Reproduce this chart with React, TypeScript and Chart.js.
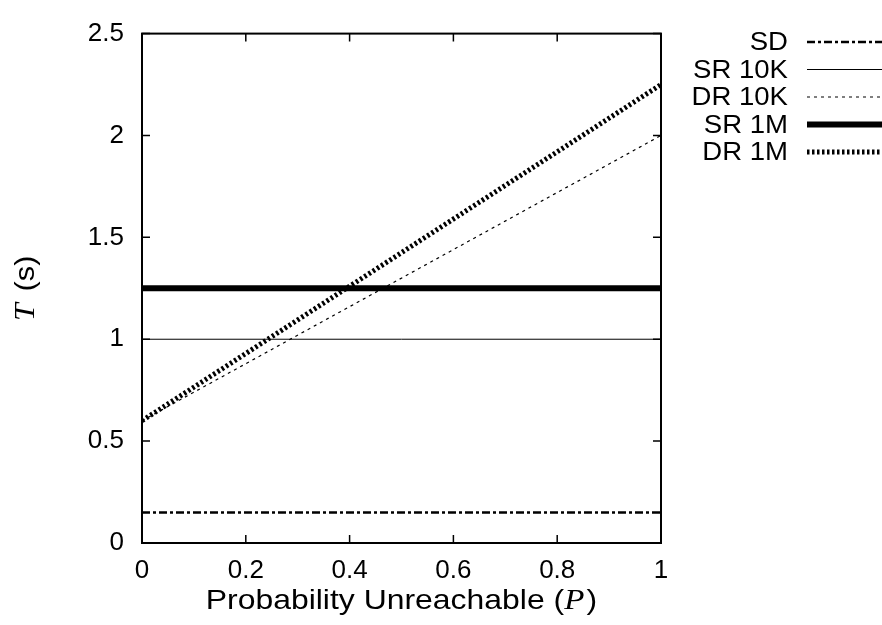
import React, { useEffect, useRef } from "react";
import { Chart, registerables } from "chart.js";

Chart.register(...registerables);

const pValues = [0, 1];
const sdValues = [0.15, 0.15];
const sr10kValues = [1.0, 1.0];
const dr10kValues = [0.6, 2.0];
const sr1mValues = [1.25, 1.25];
const dr1mValues = [0.6, 2.25];
const seriesLabels = ["SD", "SR 10K", "DR 10K", "SR 1M", "DR 1M"];
const xTicks = [0, 0.2, 0.4, 0.6, 0.8, 1];
const yTicks = [0, 0.5, 1, 1.5, 2, 2.5];
const xTitleParts = ["Probability Unreachable (", "P", ")"];
const yTitleParts = ["T", " (s)"];

const SANS = '"Liberation Sans", Arial, sans-serif';
const SERIF = '"Liberation Serif", "DejaVu Serif", serif';

// draw a run of [text, font] segments centered at (0,0) in current transform, stretched horizontally
function drawRuns(ctx: any, runs: [string, string, number][], stretch: number, baselineY: number) {
  let total = 0;
  const widths = runs.map(([t, f, extra]) => {
    ctx.font = f;
    const w = ctx.measureText(t).width + extra;
    total += w;
    return w;
  });
  ctx.save();
  ctx.scale(stretch, 1);
  let x = -total / 2;
  ctx.textAlign = "left";
  ctx.textBaseline = "alphabetic";
  runs.forEach(([t, f], i) => {
    ctx.font = f;
    ctx.fillText(t, x, baselineY);
    x += widths[i];
  });
  ctx.restore();
}

const framePlugin = {
  id: "frame",
  afterDatasetsDraw(chart: any) {
    const { ctx, chartArea } = chart;
    const { left, right, top, bottom } = chartArea;
    const xs = chart.scales.x;
    const ys = chart.scales.y;
    ctx.save();
    ctx.strokeStyle = "#000";
    ctx.lineWidth = 2;
    ctx.strokeRect(left, top, right - left, bottom - top);
    ctx.lineWidth = 1.5;
    const tl = 8;
    ctx.beginPath();
    xTicks.forEach((v) => {
      const x = xs.getPixelForValue(v);
      ctx.moveTo(x, bottom);
      ctx.lineTo(x, bottom - tl);
      ctx.moveTo(x, top);
      ctx.lineTo(x, top + tl);
    });
    yTicks.forEach((v) => {
      const y = ys.getPixelForValue(v);
      ctx.moveTo(left, y);
      ctx.lineTo(left + tl, y);
      ctx.moveTo(right, y);
      ctx.lineTo(right - tl, y);
    });
    ctx.stroke();
    ctx.restore();
  },
  afterDraw(chart: any) {
    const { ctx, chartArea } = chart;
    ctx.save();
    ctx.fillStyle = "#000";
    const sansF = `28px ${SANS}`;
    const serifF = `italic 29px ${SERIF}`;

    // X title
    const cx = (chartArea.left + chartArea.right) / 2;
    ctx.save();
    ctx.translate(cx, 609);
    drawRuns(
      ctx,
      [
        [xTitleParts[0], sansF, 0],
        [xTitleParts[1], serifF, 2],
        [xTitleParts[2], sansF, 0],
      ],
      1.14,
      0
    );
    ctx.restore();

    // Y title
    const cy = (chartArea.top + chartArea.bottom) / 2;
    ctx.save();
    ctx.translate(34, cy);
    ctx.rotate(-Math.PI / 2);
    drawRuns(
      ctx,
      [
        [yTitleParts[0], serifF, 3],
        [yTitleParts[1], sansF, 0],
      ],
      1.1,
      0
    );
    ctx.restore();

    // Legend
    const textRight = 788;
    const lineStart = 807;
    const lineEnd = 882;
    const rowTop = 42;
    const rowGap = 27.5;
    chart.data.datasets.forEach((ds: any, i: number) => {
      const y = rowTop + i * rowGap;
      ctx.save();
      ctx.translate(textRight, y + 1);
      ctx.scale(1.06, 1);
      ctx.font = `26px ${SANS}`;
      ctx.textAlign = "right";
      ctx.textBaseline = "middle";
      ctx.fillStyle = "#000";
      ctx.fillText(ds.label, 0, 0);
      ctx.restore();
      ctx.save();
      ctx.strokeStyle = ds.borderColor;
      ctx.lineWidth = ds.borderWidth;
      ctx.setLineDash(ds.borderDash || []);
      ctx.lineCap = "butt";
      ctx.beginPath();
      ctx.moveTo(lineStart, y);
      ctx.lineTo(lineEnd, y);
      ctx.stroke();
      ctx.restore();
    });
    ctx.restore();
  },
};

export default function App() {
  const ref = useRef<HTMLCanvasElement | null>(null);
  useEffect(() => {
    if (!ref.current) return;
    const mk = (label: string, values: number[], width: number, dash: number[]) => ({
      label,
      data: pValues.map((p, i) => ({ x: p, y: values[i] })),
      borderColor: "#000",
      backgroundColor: "#000",
      borderWidth: width,
      borderDash: dash,
      pointRadius: 0,
      fill: false,
      tension: 0,
    });
    const chart = new Chart(ref.current, {
      type: "line",
      data: {
        datasets: [
          mk(seriesLabels[0], sdValues, 2.5, [8, 3, 3, 3]),
          mk(seriesLabels[1], sr10kValues, 1, []),
          mk(seriesLabels[2], dr10kValues, 1.2, [3, 4]),
          mk(seriesLabels[3], sr1mValues, 6, []),
          mk(seriesLabels[4], dr1mValues, 5, [2.5, 2.5]),
        ],
      },
      options: {
        responsive: false,
        animation: false,
        layout: { padding: { top: 28, right: 221, left: 0, bottom: 0 } },
        plugins: {
          legend: { display: false },
          tooltip: { enabled: false },
        },
        scales: {
          x: {
            type: "linear",
            min: 0,
            max: 1,
            afterFit: (s: any) => {
              s.height = 82;
            },
            afterBuildTicks: (s: any) => {
              s.ticks = xTicks.map((v) => ({ value: v }));
            },
            grid: { display: false, drawTicks: false },
            border: { display: false },
            ticks: {
              padding: 12,
              color: "#000",
              font: { family: SANS, size: 26 },
              maxRotation: 0,
              callback: (v: any) => String(v),
            },
          },
          y: {
            type: "linear",
            min: 0,
            max: 2.5,
            afterFit: (s: any) => {
              s.width = 142;
            },
            afterBuildTicks: (s: any) => {
              s.ticks = yTicks.map((v) => ({ value: v }));
            },
            grid: { display: false, drawTicks: false },
            border: { display: false },
            ticks: {
              padding: 18,
              color: "#000",
              font: { family: SANS, size: 26 },
              callback: (v: any) => String(v),
            },
          },
        },
      },
      plugins: [framePlugin],
    });
    return () => chart.destroy();
  }, []);
  return (
    <div style={{ position: "fixed", left: 0, top: 0, width: 882, height: 625, background: "#fff" }}>
      <canvas ref={ref} width={882} height={625} style={{ width: 882, height: 625 }} />
    </div>
  );
}
